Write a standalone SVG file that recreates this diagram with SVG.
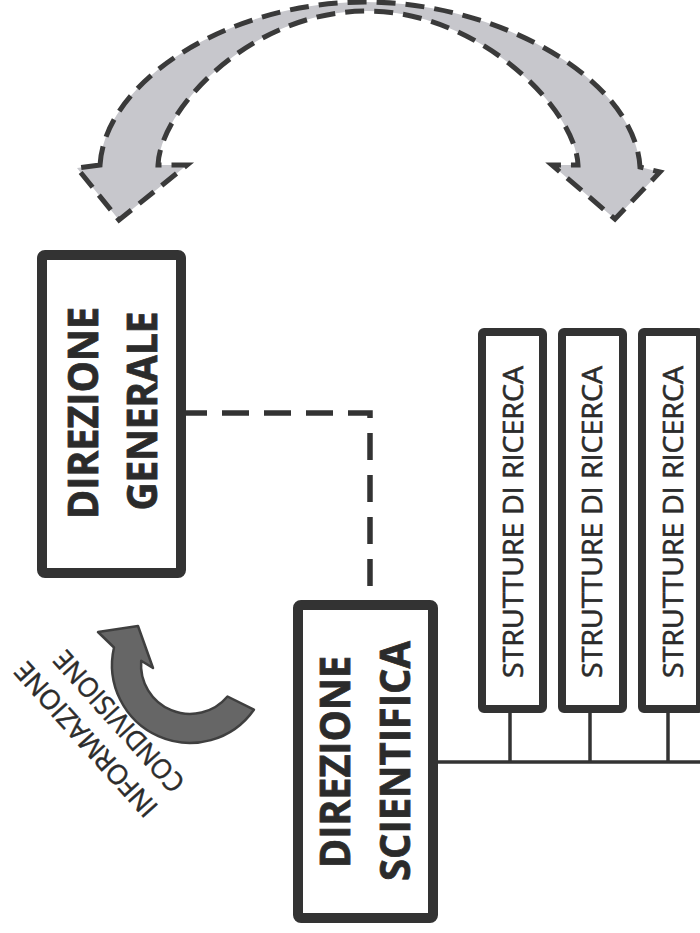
<svg xmlns="http://www.w3.org/2000/svg" width="700" height="933" viewBox="0 0 700 933">
  <style>
    .box { fill: #ffffff; stroke: #333333; stroke-linejoin: round; }
    .big { stroke-width: 10; }
    .thin { stroke-width: 8; }
    .lbl { font-family: "Open Sans", "Lato", sans-serif; font-weight: bold; font-size: 42px; fill: #2b2b2b; stroke: #2b2b2b; stroke-width: 0.8; text-anchor: middle; }
    .sr { font-family: "Open Sans", "Lato", sans-serif; font-size: 28px; fill: #2b2b2b; stroke: #2b2b2b; stroke-width: 0.6; text-anchor: middle; }
    .rot { font-family: "Open Sans", "Lato", sans-serif; font-size: 27px; fill: #2b2b2b; stroke: #2b2b2b; stroke-width: 0.5; text-anchor: middle; }
    .solid { fill: none; stroke: #333333; stroke-width: 3.5; }
    .dash { fill: none; stroke: #333333; stroke-width: 5.5; stroke-dasharray: 27 15; }
  </style>
  <rect width="700" height="933" fill="#ffffff"/>

  <!-- two-way curved exchange arrow across the top -->
  <g id="exchange-arrow">
    <path d="M100,165 C105,80 230,2 365,2 C500,2 635,80 640,167 L660,172 L615,219 L552,165 L578,165 C576,110 480,11 367,11 C250,11 160,110 158,165 L187,165 L119,220 L77,168 Z"
          fill="#c7c7cc" stroke="#3a3a3a" stroke-width="5" stroke-dasharray="19 10" stroke-linejoin="miter"/>
  </g>

  <!-- connectors -->
  <g id="connectors">
    <path class="dash" d="M180,413 H370 V590"/>
    <path class="solid" d="M436,762 H700"/>
    <path class="solid" d="M510,711 V762"/>
    <path class="solid" d="M590,711 V762"/>
    <path class="solid" d="M668,711 V762"/>
  </g>

  <g id="direzione-generale">
    <rect class="box big" x="42" y="255" width="139" height="318" rx="3"/>
    <text class="lbl" transform="translate(98,413) rotate(-90)" textLength="212" lengthAdjust="spacingAndGlyphs">DIREZIONE</text>
    <text class="lbl" transform="translate(157,411) rotate(-90)" textLength="199" lengthAdjust="spacingAndGlyphs">GENERALE</text>
  </g>

  <g id="direzione-scientifica">
    <rect class="box big" x="298" y="605" width="135" height="313" rx="3"/>
    <text class="lbl" transform="translate(350,762) rotate(-90)" textLength="212" lengthAdjust="spacingAndGlyphs">DIREZIONE</text>
    <text class="lbl" transform="translate(410,761) rotate(-90)" textLength="240" lengthAdjust="spacingAndGlyphs">SCIENTIFICA</text>
  </g>

  <g id="strutture-1">
    <rect class="box thin" x="482" y="332" width="61" height="377" rx="2"/>
    <text class="sr" transform="translate(523,522) rotate(-90)" textLength="312" lengthAdjust="spacingAndGlyphs">STRUTTURE DI RICERCA</text>
  </g>
  <g id="strutture-2">
    <rect class="box thin" x="562" y="332" width="61" height="377" rx="2"/>
    <text class="sr" transform="translate(602,522) rotate(-90)" textLength="312" lengthAdjust="spacingAndGlyphs">STRUTTURE DI RICERCA</text>
  </g>
  <g id="strutture-3">
    <rect class="box thin" x="642" y="332" width="58" height="377" rx="2"/>
    <text class="sr" transform="translate(683,522) rotate(-90)" textLength="312" lengthAdjust="spacingAndGlyphs">STRUTTURE DI RICERCA</text>
  </g>

  <!-- sharing loop arrow with its caption -->
  <g id="condivisione">
    <path d="M114,647.5 L98,632 L138,626 L153,668 L141.2,660.7 A49,49 0 0 0 227.5,696.5 L253.9,709.7 A78,78 0 0 1 114,647.5 Z"
          fill="#666666" stroke="#3f3f3f" stroke-width="2.5" stroke-linejoin="round"/>
    <text class="rot" transform="translate(126,715) rotate(-132)" textLength="180" lengthAdjust="spacingAndGlyphs">CONDIVISIONE</text>
    <text class="rot" transform="translate(93,733) rotate(-132)" textLength="198" lengthAdjust="spacingAndGlyphs">INFORMAZIONE</text>
  </g>
</svg>
